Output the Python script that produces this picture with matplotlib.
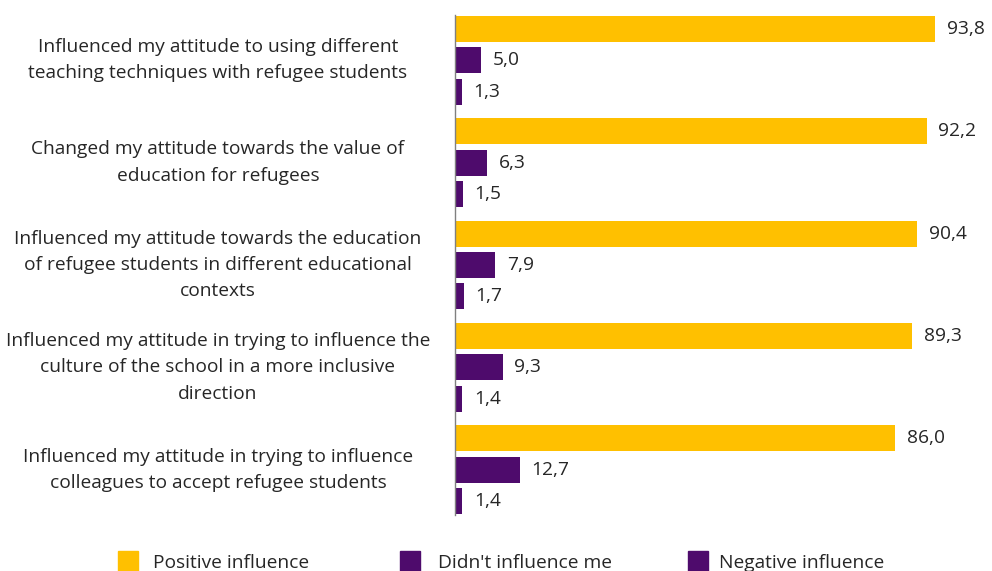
import matplotlib
matplotlib.use("Agg")
import matplotlib.pyplot as plt
import matplotlib.transforms as mtransforms
from matplotlib.patches import Rectangle

plt.rcParams['font.family'] = ['Open Sans', 'DejaVu Sans']

CATEGORIES = [
    "Influenced my attitude to using different\nteaching techniques with refugee students",
    "Changed my attitude towards the value of\neducation for refugees",
    "Influenced my attitude towards the education\nof refugee students in different educational\ncontexts",
    "Influenced my attitude in trying to influence the\nculture of the school in a more inclusive\ndirection",
    "Influenced my attitude in trying to influence\ncolleagues to accept refugee students",
]
SERIES = ["Positive influence", "Didn't influence me", "Negative influence"]
POSITIVE = [93.8, 92.2, 90.4, 89.3, 86.0]
NO_INFLUENCE = [5.0, 6.3, 7.9, 9.3, 12.7]
NEGATIVE = [1.3, 1.5, 1.7, 1.4, 1.4]

COLORS = ["#FFC000", "#4E0B6C", "#4E0B6C"]
TEXT_C = "#262626"
FS = 13.8

W, H = 992, 571
fig = plt.figure(figsize=(W / 100, H / 100), dpi=100)
ax = fig.add_axes([455 / W, 1 - 515 / H, (987 - 455) / W, 500 / H])

GROUP_STEP = 3.27
BAR_H = 0.83
values = [POSITIVE, NO_INFLUENCE, NEGATIVE]
for k, (vals, col) in enumerate(zip(values, COLORS)):
    ys = [g * GROUP_STEP + k for g in range(len(CATEGORIES))]
    ax.barh(ys, vals, height=BAR_H, color=col, zorder=2)
    for y, v in zip(ys, vals):
        ax.text(v + 2.3, y, f"{v:.1f}".replace(".", ","), va="center", ha="left",
                fontsize=FS, color=TEXT_C)

ax.set_xlim(0, 104)
ax.set_ylim(4 * GROUP_STEP + 2 + BAR_H / 2 + 0.03, -BAR_H / 2 - 0.03)
for s in ["top", "right", "bottom"]:
    ax.spines[s].set_visible(False)
ax.spines["left"].set_color("#808080")
ax.spines["left"].set_linewidth(1.0)
ax.set_xticks([])
ax.set_yticks([])

# category labels centred in the left margin
trans = mtransforms.blended_transform_factory(fig.transFigure, ax.transData)
for g, cat in enumerate(CATEGORIES):
    ax.text(218 / W, g * GROUP_STEP + 1, cat, transform=trans, ha="center",
            va="center", multialignment="center", fontsize=FS, color=TEXT_C,
            linespacing=1.6, clip_on=False)

# legend along the bottom edge
for x0, tx, name, col in zip([118, 400, 688], [153, 438, 719], SERIES, COLORS):
    fig.patches.append(Rectangle((x0 / W, -10 / H), 20 / W, 30 / H,
                                 transform=fig.transFigure, color=col))
    fig.text(tx / W, 8 / H, name, ha="left", va="center", fontsize=FS,
             color=TEXT_C)

fig.savefig("out.png", dpi=100, facecolor="white")
